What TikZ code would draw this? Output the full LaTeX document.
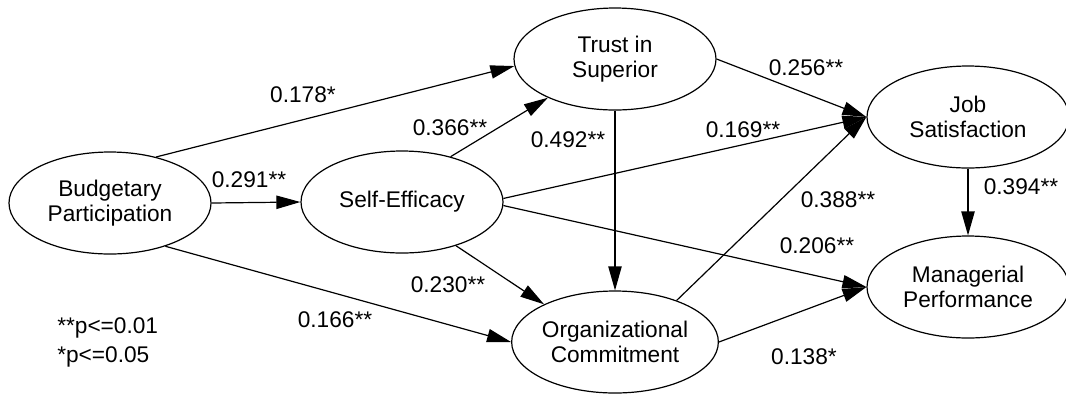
\documentclass[tikz,border=0pt]{standalone}
\usepackage{fontspec}
\setmainfont{Liberation Sans}
\usetikzlibrary{arrows.meta,shapes.geometric}
\begin{document}
\begin{tikzpicture}[x=0.75pt,y=-0.75pt,
  lv/.style={draw,ellipse,minimum width=151.5pt,minimum height=76.5pt,inner sep=0pt,align=center,font=\fontsize{17}{18.5}\selectfont,line width=0.9pt},
  lbl/.style={font=\fontsize{17}{20}\selectfont,inner sep=0pt},
  arr/.style={-{Triangle[length=18pt,width=10pt]},line width=0.9pt}]
\useasboundingbox (0,0) rectangle (1066,394);
\node[lv] (BP) at (110,203) {Budgetary\\Participation};
\node[lv] (SE) at (402,202) {Self-Efficacy};
\node[lv] (TS) at (615,59) {Trust in\\Superior};
\node[lv] (JS) at (968,117) {Job\\Satisfaction};
\node[lv] (MP) at (968,287) {Managerial\\Performance};
\node[lv] (OC) at (615,342) {Organizational\\Commitment};
\draw[arr] (BP.45) -- (TS.184);
\draw[arr] (BP.east) -- (SE.west);
\draw[arr] (BP.-38) -- (OC.west);
\draw[arr] (SE.43) -- (TS.210);
\draw[arr] (SE.2) -- (JS.west);
\draw[arr] (SE.-2) -- (MP.west);
\draw[arr] (SE.-39) -- (OC.152);
\draw[arr] (TS.south) -- (OC.north);
\draw[arr] (TS.east) -- (JS.west);
\draw[arr] (OC.34) -- (JS.west);
\draw[arr] (OC.east) -- (MP.west);
\draw[arr] (JS.south) -- (MP.north);
\node[lbl] (l178) at (303,95) {0.178*};
\node[lbl] (l291) at (249,180) {0.291**};
\node[lbl] (l366) at (450,128) {0.366**};
\node[lbl] (l492) at (568,140) {0.492**};
\node[lbl] (l256) at (806,68) {0.256**};
\node[lbl] (l169) at (743,130) {0.169**};
\node[lbl] (l388) at (838,200) {0.388**};
\node[lbl] (l394) at (1021,187) {0.394**};
\node[lbl] (l206) at (817,246) {0.206**};
\node[lbl] (l230) at (448,285) {0.230**};
\node[lbl] (l166) at (335,320) {0.166**};
\node[lbl] (l138) at (804,357) {0.138*};
\node[lbl,anchor=west] (n1) at (57,328) {**p<=0.01};
\node[lbl,anchor=west] (n2) at (57,357) {*p<=0.05};
\end{tikzpicture}
\end{document}
